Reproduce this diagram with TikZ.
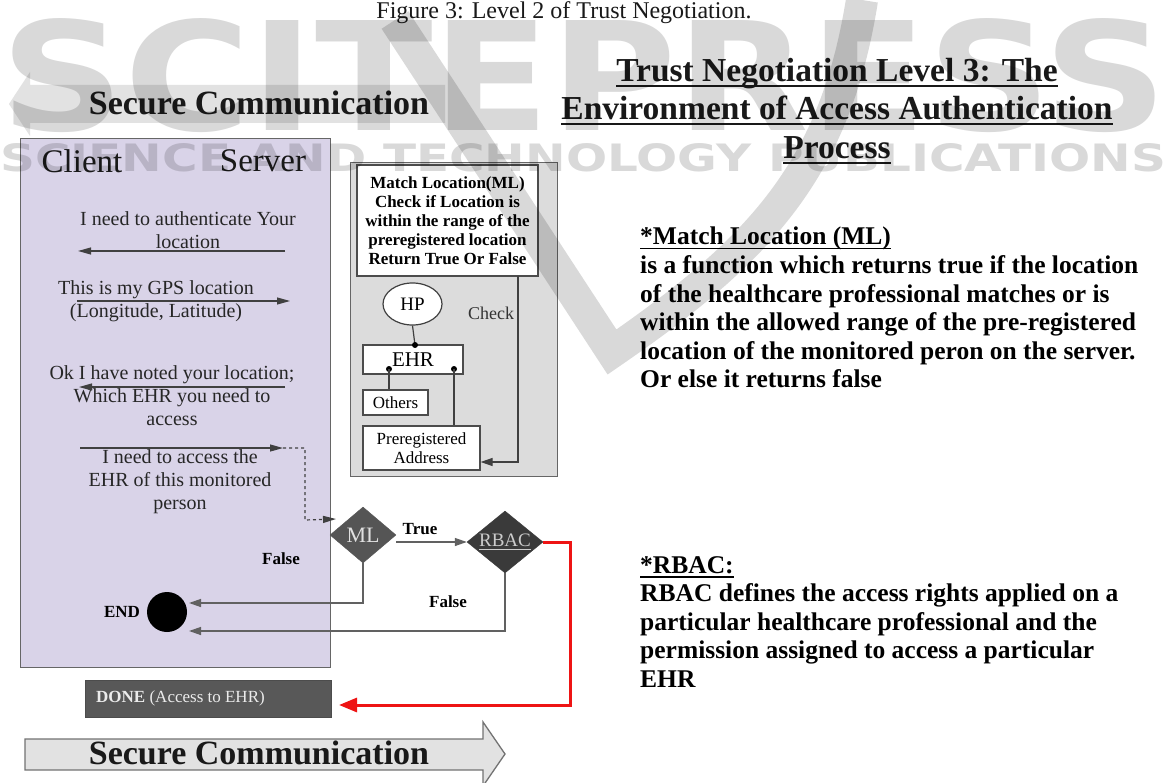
\documentclass[tikz,border=0pt]{standalone}
\usepackage{fontspec}
\setmainfont{Liberation Serif}
\newfontfamily\wmfont{DejaVu Sans}
\usepackage{graphicx}
\usetikzlibrary{arrows.meta,shapes.geometric,calc}
\definecolor{lav}{RGB}{217,211,232}
\definecolor{panelgray}{RGB}{220,220,220}
\definecolor{mlgray}{RGB}{85,85,85}
\definecolor{rbacgray}{RGB}{58,58,58}
\definecolor{donegray}{RGB}{88,88,88}
\definecolor{arrowgray}{RGB}{226,226,226}
\definecolor{fadegray}{RGB}{226,226,226}
\definecolor{redline}{RGB}{238,20,20}
\newcommand\ulbox[3]{\setbox0\hbox{#3}\leavevmode\rlap{\rule[-#2]{\wd0}{#1}}\box0}
\newcommand\thickul[1]{\ulbox{2pt}{5.5pt}{#1}}
\newcommand\thinul[1]{\ulbox{1.6pt}{4.5pt}{#1}}
\newcommand\smallul[1]{\ulbox{1pt}{3pt}{#1}}
\begin{document}
\begin{tikzpicture}[x=1pt,y=-1pt,
  txt/.style={inner sep=0pt, text=black!90},
  msgtxt/.style={inner sep=0pt, align=center, font=\fontsize{20}{23}\selectfont, text=black!85},
  msg/.style={draw=black!75, line width=1.2pt, -{Triangle[length=13pt,width=7pt]}},
  conn/.style={draw=black!62, line width=1.3pt, -{Triangle[length=12pt,width=8pt]}},
  pline/.style={draw=black!75, line width=1.2pt},
  dotend/.style={circle, fill=black, inner sep=0pt, minimum size=6pt},
  wbox/.style={draw=black!70, fill=white, line width=1.2pt, inner sep=0pt},
  lbl/.style={inner sep=0pt, font=\fontsize{17}{19}\selectfont\bfseries},
  body/.style={anchor=north west, inner sep=0pt, align=left, font=\fontsize{25.5}{28.6}\selectfont\bfseries},
]
\useasboundingbox (0,0) rectangle (1166,783);
\fill[white] (0,0) rectangle (1166,783);

% caption
\node[txt] (cap) at (564,13) {\fontsize{24}{26}\selectfont Figure 3: Level 2 of Trust Negotiation.};

% faded top arrow
\fill[fadegray] (445,85) -- (30,85) -- (30,72) -- (9,104) -- (30,136) -- (30,123) -- (445,123) -- cycle;
\node[txt, font=\fontsize{34}{38}\selectfont\bfseries] (sc1) at (259,103) {Secure Communication};

% title
\node[txt, align=center, font=\fontsize{33.5}{38.5}\selectfont\bfseries] (title) at (837,111)
  {\thickul{Trust Negotiation Level 3: The}\\ \thickul{Environment of Access Authentication}\\ \thickul{Process}};

% client/server box
\node[draw=black!60, fill=lav, line width=1.3pt, minimum width=310pt, minimum height=529pt, inner sep=0pt, anchor=north west] (cs) at (20,138) {};
\node[txt, font=\fontsize{33}{36}\selectfont] (client) at (82,161) {Client};
\node[txt, font=\fontsize{33}{36}\selectfont] (server) at (263,161) {Server};

% messages
\node[msgtxt] (t1) at (188,230) {I need to authenticate Your\\location};
\coordinate (a1s) at (285,251); \coordinate (a1e) at (78,251);
\draw[msg] (a1s) -- (a1e);
\node[msgtxt] (t2) at (156,301) {This is my GPS location\\(Longitude, Latitude)};
\coordinate (a2s) at (77,301); \coordinate (a2e) at (290,301);
\draw[msg] (a2s) -- (a2e);
\node[msgtxt] (t3) at (172,396) {Ok I have noted your location;\\Which EHR you need to\\access};
\coordinate (a3s) at (285,387); \coordinate (a3e) at (79,387);
\draw[msg] (a3s) -- (a3e);
\coordinate (a4s) at (80,448); \coordinate (a4e) at (283,448);
\draw[msg] (a4s) -- (a4e);
\node[msgtxt] (t4) at (180,482) {I need to access the\\EHR of this monitored\\person};
\coordinate (dk1) at (305,448); \coordinate (dk2) at (305,520); \coordinate (mltip) at (336,519);
\draw[draw=black!75, line width=1.2pt, dashed, -{Triangle[length=13pt,width=7pt]}] (a4e) -- (dk1) -- (dk2) -- (mltip);

% ML panel
\node[draw=black!60, fill=panelgray, line width=1.2pt, minimum width=207pt, minimum height=314pt, inner sep=0pt, anchor=north west] (panel) at (350,162) {};
\node[wbox, minimum width=181pt, minimum height=111pt, align=center, font=\fontsize{17}{19}\selectfont\bfseries] (mlbox) at (447.5,220.5)
  {Match Location(ML)\\Check if Location is\\within the range of the\\preregistered location\\Return True Or False};
\node[draw=black!75, fill=white, line width=1.2pt, ellipse, minimum width=59pt, minimum height=42pt, inner sep=0pt, font=\fontsize{19}{21}\selectfont] (hp) at (412.5,304) {HP};
\node[txt, font=\fontsize{18}{20}\selectfont, text=black!80] (check) at (491,313) {Check};
\node[wbox, minimum width=100pt, minimum height=29pt, font=\fontsize{21}{23}\selectfont] (ehr) at (413,359.5) {EHR};
\node[wbox, minimum width=65pt, minimum height=25pt, font=\fontsize{17}{19}\selectfont] (others) at (395.5,402.5) {Others};
\node[wbox, minimum width=117pt, minimum height=44pt, align=center, font=\fontsize{17}{19}\selectfont] (prereg) at (421.5,448) {Preregistered\\Address};
\coordinate (ehrtop) at (415,345);
\draw[pline] (hp.south) -- (ehrtop);
\node[dotend] (d1) at (ehrtop) {};
\node[dotend] (d2) at (389,369) {};
\node[dotend] (d3) at (454,369) {};
\draw[pline] (d2.center) -- (d2.center |- others.north);
\draw[pline] (d3.center) -- (d3.center |- prereg.north);
\coordinate (chk1) at (518,276); \coordinate (chk2) at (518,462);
\draw[pline, -{Triangle[length=12pt,width=8pt]}] (chk1) -- (chk2) -- (chk2 -| prereg.east);

% decisions
\node[diamond, fill=mlgray, draw=mlgray, minimum width=66pt, minimum height=56pt, inner sep=0pt, text=black!12, font=\fontsize{22}{24}\selectfont] (ML) at (363,535) {ML};
\node[diamond, fill=rbacgray, draw=rbacgray, minimum width=76pt, minimum height=62pt, inner sep=0pt, shape aspect=1.3, text=black!20, font=\fontsize{19}{21}\selectfont] (RBAC) at (505,542) {\smallul{RBAC}};
\node[lbl] (true) at (420,529) {True};
\draw[conn] (ML.east |- RBAC.west) -- (RBAC.west);
\node[lbl] (false1) at (281,559) {False};
\node[lbl] (false2) at (448,602) {False};
\node[circle, fill=black, minimum size=40pt, inner sep=0pt] (END) at (167,612) {};
\node[lbl] (endl) at (122,612) {END};
\coordinate (endhi) at (189,603); \coordinate (endlo) at (189,631);
\draw[conn] (ML.south) |- (endhi);
\draw[conn] (RBAC.south) |- (endlo);

% done
\node[draw=black!70, fill=donegray, line width=1pt, minimum width=246pt, minimum height=37pt, inner sep=0pt, anchor=north west] (DONE) at (85,680) {};
\node[anchor=west, inner sep=0pt, text=black!8, font=\fontsize{17}{19}\selectfont] (donet) at (96,698.5) {\textbf{DONE} (Access to EHR)};
\coordinate (rc) at (570,705); \coordinate (donetip) at (339,705);
\draw[draw=redline, line width=3pt, -{Triangle[length=18pt,width=14pt]}] (RBAC.east) -| (rc) -- (donetip);

% bottom arrow
\draw[fill=arrowgray, draw=black!55, line width=1.3pt] (25,739) -- (483,739) -- (483,722) -- (505,754) -- (483,786) -- (483,770) -- (25,770) -- cycle;
\node[txt, font=\fontsize{34}{38}\selectfont\bfseries] (sc2) at (259,753) {Secure Communication};

% right texts
\node[body] (mltext) at (640,227)
  {\thinul{*Match Location (ML)}\\
   is a function which returns true if the location\\
   of the healthcare professional matches or is\\
   within the allowed range of the pre-registered\\
   location of the monitored peron on the server.\\
   Or else it returns false};
\node[body] (rbactext) at (640,556)
  {\thinul{*RBAC:}\\
   RBAC defines the access rights applied on a\\
   particular healthcare professional and the\\
   permission assigned to access a particular\\
   EHR};

% watermark
\begin{scope}[opacity=0.15]
\node[anchor=north west, inner sep=0pt] (wm1) at (0,18) {\resizebox{1166pt}{112pt}{\wmfont\bfseries SCITEPRESS}};
\node[anchor=north west, inner sep=0pt] (wm2) at (0,143) {\resizebox{1166pt}{28pt}{\wmfont\bfseries SCIENCE AND TECHNOLOGY PUBLICATIONS}};
\draw[line width=32pt, black] (395,20) -- (612,352) .. controls (760,250) and (835,170) .. (862,0);
\end{scope}
\end{tikzpicture}
\end{document}
